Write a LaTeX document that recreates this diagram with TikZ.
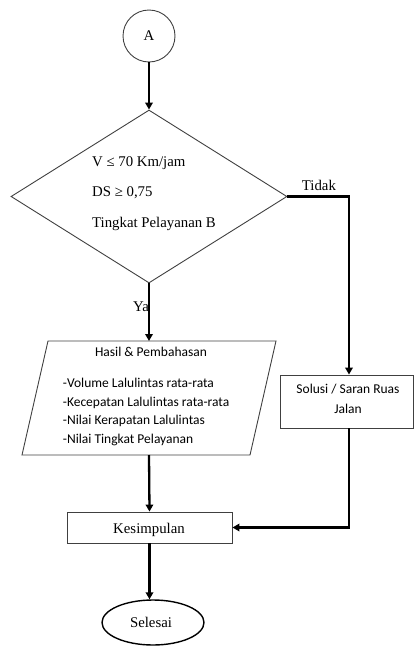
\documentclass[tikz,border=0pt]{standalone}
\usepackage{fontspec}
\setmainfont{Liberation Serif}
\newfontfamily\calfont{Carlito}
\usetikzlibrary{arrows.meta,shapes.geometric}
\begin{document}
\begin{tikzpicture}[x=1pt,y=-1pt,
  shapeline/.style={draw=black!75,line width=0.9pt},
  conn/.style={line width=2.3pt,draw=black},
  arr/.style={conn,-{Triangle[length=7pt,width=7.5pt]}},
  serif/.style={font=\fontsize{14.8}{17}\selectfont,inner sep=0pt},
  cal/.style={font=\calfont\fontsize{13.5}{16}\selectfont,inner sep=0pt}]
\useasboundingbox (0,0) rectangle (414,648);
% shapes
\node[shapeline,circle,minimum size=52pt,inner sep=0pt] (A) at (149,36) {};
\node[serif] (Atext) at (149,36) {A};
\node[shapeline,diamond,minimum width=276pt,minimum height=173pt,inner sep=0pt] (d) at (149,196.5) {};
\node[serif,anchor=base west] (c1) at (92,166.5) {V ≤ 70 Km/jam};
\node[serif,anchor=base west] (c2) at (92,196.5) {DS ≥ 0,75};
\node[serif,anchor=base west] (c3) at (92,227.5) {Tingkat Pelayanan B};
% parallelogram
\coordinate (p1) at (48,341);
\coordinate (p2) at (276,341);
\coordinate (p3) at (250,455);
\coordinate (p4) at (22,455);
\draw[shapeline] (p1) -- (p2) -- (p3) -- (p4) -- cycle;
\coordinate (ptop) at (149,341);
\coordinate (pbot) at (149,455);
\node[cal,anchor=base] (h0) at (151,356.7) {Hasil \& Pembahasan};
\node[cal,anchor=base west] (h1) at (62.7,387.3) {-Volume Lalulintas rata-rata};
\node[cal,anchor=base west] (h2) at (62.7,406) {-Kecepatan Lalulintas rata-rata};
\node[cal,anchor=base west] (h3) at (62.7,424.3) {-Nilai Kerapatan Lalulintas};
\node[cal,anchor=base west] (h4) at (62.7,443.3) {-Nilai Tingkat Pelayanan};
% solusi box
\node[shapeline,rectangle,minimum width=133pt,minimum height=53pt,inner sep=0pt] (s) at (347,401.5) {};
\node[cal,anchor=base] (s1) at (348,393.8) {Solusi / Saran Ruas};
\node[cal,anchor=base] (s2) at (348,413) {Jalan};
% kesimpulan
\node[shapeline,rectangle,minimum width=165pt,minimum height=31pt,inner sep=0pt] (k) at (149.5,527.5) {};
\node[serif,anchor=base] (k1) at (149,533.3) {Kesimpulan};
% selesai
\node[draw=black,line width=1.4pt,ellipse,minimum width=102pt,minimum height=45pt,inner sep=0pt] (e) at (153,622.5) {};
\node[serif,anchor=base] (e1) at (151,627.7) {Selesai};
% connectors
\coordinate (t) at (349,196.5);
\coordinate (sb) at (349,428);
\draw[arr] (A.south) -- (d.north);
\draw[arr] (d.east) -- (t) -- (t|-s.north);
\node[serif,anchor=base west] (tidak) at (301.7,190.7) {Tidak};
\draw[arr] (d.south) -- (ptop);
\node[serif,anchor=base west] (ya) at (133,311.7) {Ya};
\draw[arr] (sb) |- (k.east);
\draw[arr] (pbot) -- (k.north);
\draw[arr] (k.south) -- (k.south|-e.north);
\end{tikzpicture}
\end{document}
